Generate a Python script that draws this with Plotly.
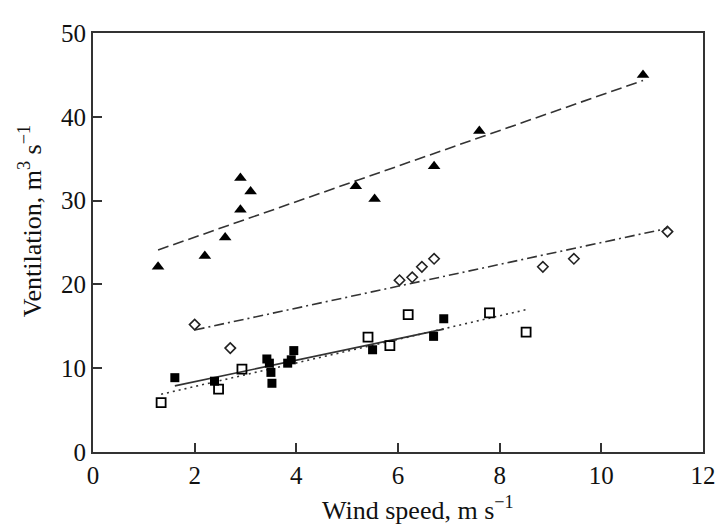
import numpy as np
import plotly.graph_objects as go

# Triangles (filled)
tri_x = [1.28, 2.2, 2.6, 2.9, 2.9, 3.1, 5.17, 5.54, 6.71, 7.6, 10.82]
tri_y = [22.1, 23.4, 25.6, 28.9, 32.7, 31.1, 31.7, 30.2, 34.1, 38.3, 45.0]

# Diamonds (open)
dia_x = [2.0, 2.7, 6.03, 6.28, 6.47, 6.71, 8.85, 9.46, 11.3]
dia_y = [15.2, 12.4, 20.5, 20.85, 22.1, 23.06, 22.1, 23.06, 26.3]

# Squares (filled)
sqf_x = [1.61, 2.39, 3.42, 3.47, 3.5, 3.52, 3.83, 3.9, 3.95, 5.5, 6.7, 6.9]
sqf_y = [8.87, 8.45, 11.1, 10.6, 9.5, 8.2, 10.6, 11.0, 12.1, 12.2, 13.8, 15.9]

# Squares (open)
sqo_x = [1.34, 2.47, 2.93, 5.41, 5.84, 6.2, 7.8, 8.52]
sqo_y = [5.9, 7.5, 9.9, 13.7, 12.7, 16.4, 16.6, 14.3]

x_ticks = [0, 2, 4, 6, 8, 10, 12]
y_ticks = [0, 10, 20, 30, 40, 50]

FONT = "Liberation Serif, Times New Roman, serif"
LINE = "#333333"

fig = go.Figure()


def fit_line(xs, ys):
    xs = np.asarray(xs, float)
    ys = np.asarray(ys, float)
    k, b = np.polyfit(xs, ys, 1)
    xx = np.array([xs.min(), xs.max()])
    return xx, k * xx + b


series = [
    (tri_x, tri_y, dict(symbol="triangle-up", size=11, color="black"), "11px,5px"),
    (dia_x, dia_y, dict(symbol="diamond-open", size=8, color="#222",
                        line=dict(width=1.6, color="#222")), "10px,4px,2px,4px"),
    (sqf_x, sqf_y, dict(symbol="square", size=9, color="black"), "solid"),
    (sqo_x, sqo_y, dict(symbol="square-open", size=9, color="black",
                        line=dict(width=1.8, color="black")), "2px,4px"),
]

for xs, ys, mk, dash in series:
    lx, ly = fit_line(xs, ys)
    fig.add_trace(go.Scatter(x=lx, y=ly, mode="lines",
                             line=dict(color=LINE, width=1.6, dash=dash),
                             showlegend=False, hoverinfo="skip"))
for xs, ys, mk, dash in series:
    fig.add_trace(go.Scatter(x=xs, y=ys, mode="markers", marker=mk,
                             showlegend=False))

axis_common = dict(
    showgrid=False, zeroline=False, showline=True, mirror=True,
    linecolor=LINE, linewidth=1.8, ticks="inside", ticklen=9,
    tickwidth=1.5, tickcolor=LINE,
    tickfont=dict(family=FONT, size=25, color="#111"),
)

fig.update_xaxes(range=[0, 12], tickvals=x_ticks,
                 ticktext=[str(v) for v in x_ticks], **axis_common)
fig.update_yaxes(range=[0, 50], tickvals=y_ticks,
                 ticktext=[str(v) for v in y_ticks], **axis_common)

fig.add_annotation(text="Wind speed, m s<sup>\u22121</sup>", xref="paper", yref="paper",
                   x=0.532, y=-0.135, yanchor="middle", showarrow=False,
                   font=dict(family=FONT, size=26, color="#111"))
fig.add_annotation(text="Ventilation, m<sup>3</sup> s<sup>\u22121</sup>", xref="paper",
                   yref="paper", x=-0.102, y=0.55, xanchor="center", yanchor="middle",
                   textangle=-90, showarrow=False,
                   font=dict(family=FONT, size=26, color="#111"))

# page body has an 8px default margin, so the figure is sized/offset to compensate
fig.update_layout(
    width=720, height=521,
    margin=dict(l=85, r=17, t=14, b=77),
    paper_bgcolor="white", plot_bgcolor="white",
)

fig.write_html("out.html")
